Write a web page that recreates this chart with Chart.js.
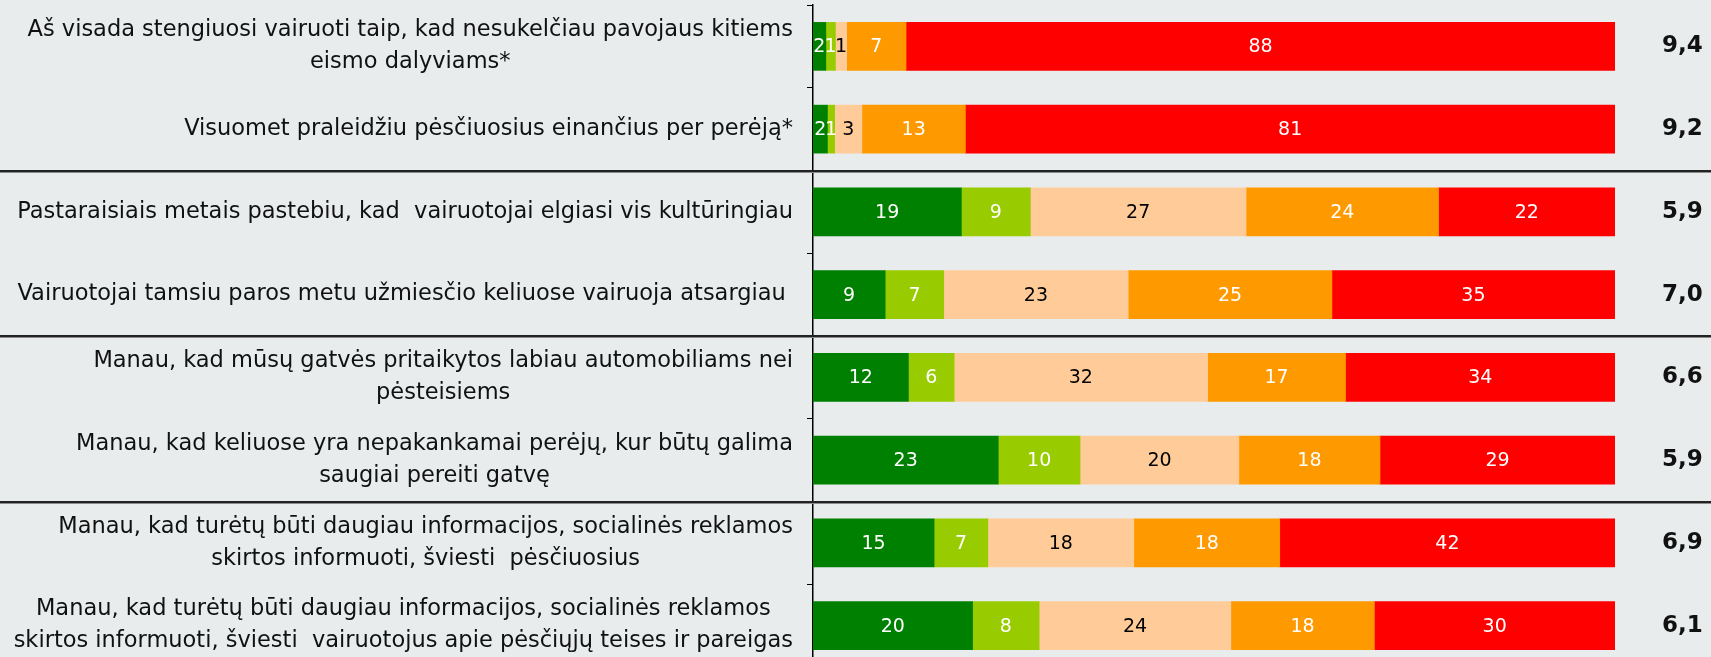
<!DOCTYPE html>
<html>
<head>
<meta charset="utf-8">
<script src="https://cdn.jsdelivr.net/npm/chart.js@4.4.1/dist/chart.umd.min.js"></script>
<style>
  html, body { margin: 0; padding: 0; background: #e8ecec; overflow: hidden; }
  #wrap { position: relative; width: 1711px; height: 667px; }
</style>
</head>
<body>
<div id="wrap"><canvas id="chart"></canvas></div>
<script>
// ── Data ─────────────────────────────────────────────────

const statements = [
  ["Aš visada stengiuosi vairuoti taip, kad nesukelčiau pavojaus kitiems", "eismo dalyviams*"],
  ["Visuomet praleidžiu pėsčiuosius einančius per perėją*"],
  ["Pastaraisiais metais pastebiu, kad  vairuotojai elgiasi vis kultūringiau"],
  ["Vairuotojai tamsiu paros metu užmiesčio keliuose vairuoja atsargiau "],
  ["Manau, kad mūsų gatvės pritaikytos labiau automobiliams nei", "pėsteisiems"],
  ["Manau, kad keliuose yra nepakankamai perėjų, kur būtų galima", "saugiai pereiti gatvę"],
  ["Manau, kad turėtų būti daugiau informacijos, socialinės reklamos", "skirtos informuoti, šviesti  pėsčiuosius"],
  ["Manau, kad turėtų būti daugiau informacijos, socialinės reklamos", "skirtos informuoti, šviesti  vairuotojus apie pėsčiųjų teises ir pareigas"]
];

const averages = ["9,4", "9,2", "5,9", "7,0", "6,6", "5,9", "6,9", "6,1"];

// last row index of each statement group (a rule is drawn under it)
const groupEnds = [1, 3, 5];

const seriesNames = ["Visiškai nesutinku", "Nesutinku", "Nei sutinku, nei nesutinku", "Sutinku", "Visiškai sutinku"];
const disagreeFully = [1.6, 1.8, 18.5, 9.0, 11.9, 23.1, 15.1, 19.9];
const disagree      = [1.2, 0.9, 8.6, 7.3, 5.7, 10.2, 6.7, 8.3];
const neutral       = [1.4, 3.4, 26.9, 23.0, 31.6, 19.8, 18.2, 23.9];
const agree         = [7.4, 12.9, 24.0, 25.4, 17.2, 17.6, 18.2, 17.9];
const agreeFully    = [88.4, 81.0, 22.0, 35.3, 33.6, 29.3, 41.8, 30.0];

const barColors  = ["#008000", "#99cc00", "#ffcc99", "#ff9900", "#ff0000"];
const textColors = ["#ffffff", "#ffffff", "#000000", "#ffffff", "#ffffff"];

// ── Plugins ──────────────────────────────────────────────

const barLabels = {
  id: "barLabels",
  afterDatasetsDraw(chart) {
    const ctx = chart.ctx;
    ctx.save();
    ctx.font = '19px "DejaVu Sans"';
    ctx.textAlign = "center";
    ctx.textBaseline = "middle";
    chart.data.datasets.forEach((ds, i) => {
      chart.getDatasetMeta(i).data.forEach((bar, j) => {
        ctx.fillStyle = textColors[i];
        ctx.fillText(Math.round(ds.data[j]), (bar.x + bar.base) / 2, bar.y + 1);
      });
    });
    ctx.restore();
  }
};

const statementLabels = {
  id: "statementLabels",
  afterDraw(chart) {
    const ctx = chart.ctx;
    const y = chart.scales.y;
    const right = chart.chartArea.left - 20;
    ctx.save();
    ctx.font = '22.5px "DejaVu Sans"';
    ctx.fillStyle = "#111";
    ctx.textAlign = "center";
    ctx.textBaseline = "middle";
    statements.forEach((lines, i) => {
      const w = Math.max(...lines.map(l => ctx.measureText(l).width));
      const cx = right - w / 2;
      const cy = y.getPixelForValue(i);
      lines.forEach((l, k) => ctx.fillText(l, cx, cy + (k - (lines.length - 1) / 2) * 32));
    });
    ctx.restore();
  }
};

const groupRules = {
  id: "groupRules",
  afterDraw(chart) {
    const ctx = chart.ctx;
    const y = chart.scales.y;
    ctx.save();
    groupEnds.forEach(e => {
      const yb = Math.round((y.getPixelForValue(e) + y.getPixelForValue(e + 1)) / 2);
      ctx.fillStyle = "#222";
      ctx.fillRect(0, yb - 1, chart.width, 2);
      ctx.fillStyle = "#8a8c8c";
      ctx.fillRect(0, yb + 1, chart.width, 1);
    });
    ctx.restore();
  }
};

// ── Chart ────────────────────────────────────────────────

const series = [disagreeFully, disagree, neutral, agree, agreeFully];

new Chart(document.getElementById("chart"), {
  type: "bar",
  data: {
    labels: statements.map(s => s.join(" ")),
    datasets: series.map((d, i) => ({
      label: seriesNames[i],
      data: d,
      backgroundColor: barColors[i],
      borderWidth: 0,
      barThickness: 48
    }))
  },
  options: {
    indexAxis: "y",
    responsive: true,
    maintainAspectRatio: false,
    animation: false,
    layout: { padding: { top: 5, right: 0, bottom: 0, left: 0 } },
    plugins: {
      legend: { display: false },
      tooltip: { enabled: false }
    },
    scales: {
      y: {
        stacked: true,
        afterFit(scale) { scale.width = 813; },
        border: { color: "#000", width: 1.5 },
        grid: { drawOnChartArea: false, color: "#000", tickLength: 6, offset: true },
        ticks: { display: false }
      },
      x: {
        stacked: true,
        min: 0,
        max: 100,
        display: false
      },
      y2: {
        type: "category",
        labels: averages,
        position: "right",
        offset: true,
        afterFit(scale) {
          scale.width = 96;
          scale.paddingTop = 0;
          scale.paddingBottom = 0;
        },
        grid: { display: false, drawTicks: false },
        border: { display: false },
        ticks: {
          color: "#111",
          padding: 47,
          crossAlign: "near",
          font: { family: "DejaVu Sans", size: 23, weight: "bold" }
        }
      }
    }
  },
  plugins: [barLabels, statementLabels, groupRules]
});
</script>
</body>
</html>
